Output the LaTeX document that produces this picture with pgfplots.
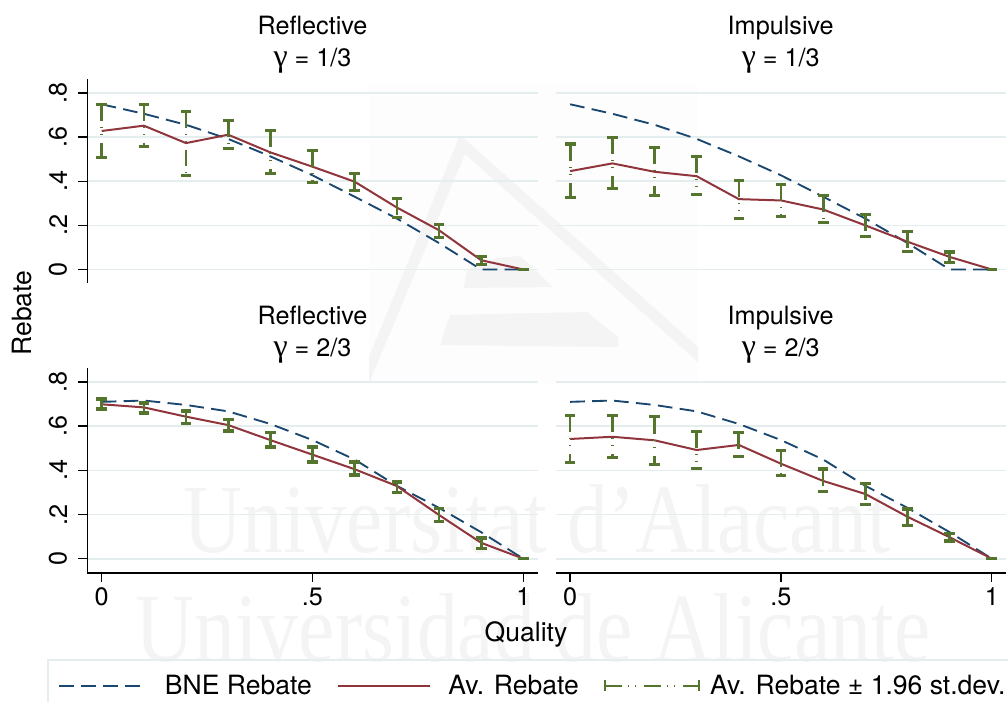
\documentclass[border=0pt]{standalone}
\usepackage{pgfplots}
\pgfplotsset{compat=1.18}
\usepackage{fontspec}
\setmainfont{TeX Gyre Heros}
\newfontfamily\gam{Liberation Serif}
\newfontfamily\wm{Liberation Serif}
\definecolor{sgnavy}{RGB}{26,71,111}
\definecolor{sgmaroon}{RGB}{144,53,59}
\definecolor{sggreen}{RGB}{85,117,47}
\definecolor{sggrid}{RGB}{228,238,239}
\definecolor{wmgray}{RGB}{244,244,244}
\definecolor{wmlight}{RGB}{253,253,253}
\tikzset{
  bne/.style={draw=sgnavy,line width=1.4pt,dash pattern=on 11pt off 5.5pt},
  av/.style={draw=sgmaroon,line width=1.5pt,solid},
  ci/.style={draw=sggreen,line width=2pt,dash pattern=on 12.5pt off 4.5pt on .75pt off 4.5pt on .75pt off 6pt},
}
\pgfplotsset{
  panel/.style={
    scale only axis,width=337.5pt,
    xmin=-0.0336,xmax=1.0336,
    ytick={0,.2,.4,.6,.8},
    ymajorgrids,
    grid style={sggrid,line width=1.2pt},
    axis x line=bottom,axis y line=left,
    axis line style={-,line width=1pt,black},
    tick style={black,line width=1pt},
    tick align=outside,major tick length=6.75pt,
    ticklabel style={font=\fontsize{18.9}{20}\selectfont},
    clip=false,
  },
  toppanel/.style={height=153pt,ymin=-0.0612,ymax=0.8636,xtick=\empty,x axis line style={draw=none}},
  botpanel/.style={height=153.75pt,ymin=-0.0647,ymax=0.8633,xtick={0,.5,1},xticklabels={0,.5,1},
     xticklabel style={yshift=-1pt}},
  leftpanel/.style={yticklabels={0,.2,.4,.6,.8},yticklabel style={rotate=90,anchor=south,yshift=5pt}},
  rightpanel/.style={yticklabels={},y axis line style={draw=none},ytick style={draw=none},major tick length=6.75pt},
  cistyle/.style={ci,mark=-,mark size=4pt,mark options={solid,draw=sggreen,line width=2.4pt},unbounded coords=jump},
}
\begin{document}
\begin{tikzpicture}[x=.75pt,y=.75pt]
\useasboundingbox (0,0) rectangle (1008,701);
% watermark
\fill[wmlight] (369,701-85) rectangle (698,701-385);
\fill[wmgray] (460,701-135) -- (369,701-357) -- (369,701-383) -- (465,701-154) -- (698,701-362) -- (698,701-347) -- cycle;
\fill[wmgray] (464,701-288) -- (467,701-270) -- (497,701-258) -- (520,701-256) -- (553,701-287) -- cycle;
\fill[wmgray] (440,701-345) -- (450,701-315) -- (587,701-312) -- (618,701-337) -- (618,701-347) -- cycle;
\node[anchor=base west,inner sep=0,xscale=.835,text=wmgray,font=\wm\fontsize{73.5}{80}\selectfont] at (183,701-552) {Universitat d’Alacant};
\node[anchor=base west,inner sep=0,xscale=.835,text=wmgray,font=\wm\fontsize{73.5}{80}\selectfont] at (135,701-661) {Universidad de Alicante};

% top left
\begin{axis}[panel,toppanel,leftpanel,at={(65.625pt,313.5pt)},anchor=south west]
\addplot[bne,forget plot] coordinates {(0,.749)(.1,.706)(.2,.656)(.3,.592)(.4,.513)(.5,.427)(.6,.33)(.7,.231)(.8,.12)(.9,0)(1,0)};
\addplot[av,forget plot] coordinates {(0,.628)(.1,.652)(.2,.573)(.3,.611)(.4,.531)(.5,.466)(.6,.398)(.7,.281)(.8,.178)(.9,.042)(1,0)};
\addplot[cistyle,forget plot] coordinates {
(0,.749)(0,.507)(0,nan)(.1,.749)(.1,.557)(.1,nan)(.2,.718)(.2,.426)(.2,nan)(.3,.677)(.3,.547)(.3,nan)
(.4,.631)(.4,.436)(.4,nan)(.5,.54)(.5,.395)(.5,nan)(.6,.436)(.6,.357)(.6,nan)(.7,.322)(.7,.236)(.7,nan)
(.8,.204)(.8,.144)(.8,nan)(.9,.059)(.9,.021)(.9,nan)(1,0)(1,0)};
\end{axis}

% top right
\begin{axis}[panel,toppanel,rightpanel,at={(417pt,313.5pt)},anchor=south west]
\addplot[bne,forget plot] coordinates {(0,.749)(.1,.706)(.2,.656)(.3,.592)(.4,.513)(.5,.427)(.6,.33)(.7,.231)(.8,.12)(.9,0)(1,0)};
\addplot[av,forget plot] coordinates {(0,.446)(.1,.481)(.2,.443)(.3,.423)(.4,.319)(.5,.313)(.6,.272)(.7,.2)(.8,.126)(.9,.057)(1,0)};
\addplot[cistyle,forget plot] coordinates {
(0,.569)(0,.327)(0,nan)(.1,.597)(.1,.369)(.1,nan)(.2,.552)(.2,.334)(.2,nan)(.3,.511)(.3,.339)(.3,nan)
(.4,.405)(.4,.231)(.4,nan)(.5,.387)(.5,.239)(.5,nan)(.6,.337)(.6,.213)(.6,nan)(.7,.251)(.7,.15)(.7,nan)
(.8,.171)(.8,.08)(.8,nan)(.9,.079)(.9,.032)(.9,nan)(1,0)(1,0)};
\end{axis}

% bottom left
\begin{axis}[panel,botpanel,leftpanel,at={(65.625pt,96pt)},anchor=south west]
\addplot[bne,forget plot] coordinates {(0,.71)(.1,.716)(.2,.696)(.3,.667)(.4,.61)(.5,.537)(.6,.449)(.7,.33)(.8,.23)(.9,.12)(1,0)};
\addplot[av,forget plot] coordinates {(0,.699)(.1,.685)(.2,.643)(.3,.605)(.4,.537)(.5,.471)(.6,.405)(.7,.329)(.8,.198)(.9,.072)(1,0)};
\addplot[cistyle,forget plot] coordinates {
(0,.723)(0,.678)(0,nan)(.1,.705)(.1,.66)(.1,nan)(.2,.669)(.2,.613)(.2,nan)(.3,.629)(.3,.578)(.3,nan)
(.4,.571)(.4,.506)(.4,nan)(.5,.506)(.5,.438)(.5,nan)(.6,.438)(.6,.379)(.6,nan)(.7,.347)(.7,.299)(.7,nan)
(.8,.228)(.8,.168)(.8,nan)(.9,.094)(.9,.045)(.9,nan)(1,0)(1,0)};
\end{axis}

% bottom right, with the legend
\begin{axis}[panel,botpanel,rightpanel,at={(417pt,96pt)},anchor=south west,
  legend style={at={(-1.1311,-0.4195)},anchor=north west,draw=sggrid,line width=1.2pt,fill=none,
    font=\fontsize{19.9}{21}\selectfont,inner xsep=8pt,inner ysep=9.5pt,
    /tikz/every odd column/.append style={column sep=11pt},
    /tikz/every even column/.append style={column sep=17pt}},
  legend columns=6,legend cell align=left]
\addplot[bne,forget plot] coordinates {(0,.71)(.1,.716)(.2,.696)(.3,.667)(.4,.61)(.5,.537)(.6,.449)(.7,.33)(.8,.23)(.9,.12)(1,0)};
\addplot[av,forget plot] coordinates {(0,.542)(.1,.552)(.2,.536)(.3,.492)(.4,.515)(.5,.43)(.6,.352)(.7,.293)(.8,.19)(.9,.097)(1,0)};
\addplot[cistyle,forget plot] coordinates {
(0,.648)(0,.435)(0,nan)(.1,.648)(.1,.457)(.1,nan)(.2,.642)(.2,.426)(.2,nan)(.3,.575)(.3,.408)(.3,nan)
(.4,.571)(.4,.463)(.4,nan)(.5,.489)(.5,.376)(.5,nan)(.6,.406)(.6,.303)(.6,nan)(.7,.34)(.7,.245)(.7,nan)
(.8,.225)(.8,.152)(.8,nan)(.9,.113)(.9,.08)(.9,nan)(1,0)(1,0)};
\addlegendimage{legend image code/.code={\draw[draw=sgnavy,line width=1.4pt,dash pattern=on 11pt off 5.5pt] (0pt,0pt) -- (64pt,0pt);}}
\addlegendentry{\hspace{1.5pt}BNE Rebate}
\addlegendimage{legend image code/.code={\draw[draw=sgmaroon,line width=1.5pt,solid] (0pt,0pt) -- (69pt,0pt);}}
\addlegendentry{Av. Rebate}
\addlegendimage{legend image code/.code={\draw[draw=sggreen,line width=1.7pt,dash pattern=on 12.5pt off 4.5pt on .75pt off 4.5pt on .75pt off 6pt] (0pt,0pt) -- (70pt,0pt);\draw[draw=sggreen,line width=1.7pt,solid] (0pt,-4pt) -- (0pt,4pt) (70pt,-4pt) -- (70pt,4pt);}}
\addlegendentry{\hspace{-5.25pt}Av. Rebate ± 1.96 st.dev.\hspace{-8pt}}
\end{axis}

% titles and axis labels
\tikzset{ttl/.style={font=\fontsize{18.9}{20}\selectfont,inner sep=0}}
\newcommand{\gm}{{\gam\fontsize{24}{24}\selectfont γ}}
\node[ttl,anchor=base] at (312.5,701-35) {Reflective};
\node[ttl,anchor=base] at (312.5,701-67) {\gm{} = 1/3};
\node[ttl,anchor=base] at (780.7,701-35) {Impulsive};
\node[ttl,anchor=base] at (780.7,701-67) {\gm{} = 1/3};
\node[ttl,anchor=base] at (312.5,701-325) {Reflective};
\node[ttl,anchor=base] at (312.5,701-357) {\gm{} = 2/3};
\node[ttl,anchor=base] at (780.7,701-325) {Impulsive};
\node[ttl,anchor=base] at (780.7,701-357) {\gm{} = 2/3};
\node[font=\fontsize{19.9}{21}\selectfont,inner sep=0,rotate=90,anchor=base] at (31,701-313) {Rebate};
\node[font=\fontsize{19.9}{21}\selectfont,inner sep=0,anchor=base] at (526,701-641) {Quality};
\end{tikzpicture}
\end{document}
